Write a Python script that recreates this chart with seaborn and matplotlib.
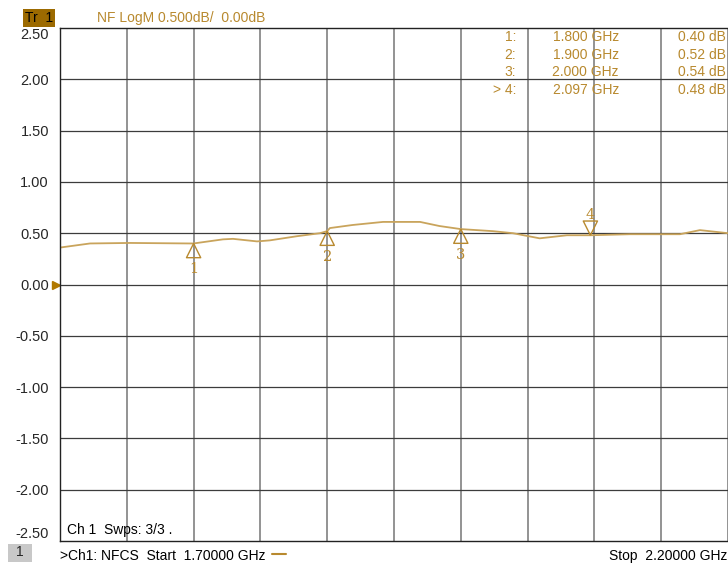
import matplotlib
matplotlib.use("Agg")
import matplotlib.pyplot as plt
import matplotlib.patches as mpatches
import seaborn as sns
import pandas as pd
import numpy as np

# ---- data ----
freq_ghz = [1.700, 1.7225, 1.7524, 1.7973, 1.800, 1.822, 1.8295, 1.8475, 1.857, 1.877,
            1.8946, 1.900, 1.902, 1.919, 1.9418, 1.9695, 1.984, 2.000, 2.024, 2.039,
            2.059, 2.0795, 2.097, 2.1266, 2.154, 2.164, 2.179, 2.200]
nf_db = [0.36, 0.40, 0.405, 0.40, 0.40, 0.44, 0.445, 0.42, 0.43, 0.47,
         0.50, 0.52, 0.55, 0.58, 0.61, 0.61, 0.57, 0.54, 0.52, 0.50,
         0.45, 0.48, 0.48, 0.49, 0.49, 0.49, 0.53, 0.50]
marker_ids = ["1", "2", "3", "4"]
marker_freq = [1.800, 1.900, 2.000, 2.097]
marker_val = [0.40, 0.52, 0.54, 0.48]
ytick_vals = [2.5, 2.0, 1.5, 1.0, 0.5, 0.0, -0.5, -1.0, -1.5, -2.0, -2.5]

TRACE = "#c9a45c"
GOLD = "#b8892e"
FONT = "Liberation Sans"

sns.set_style("white")
plt.rcParams["font.family"] = [FONT, "DejaVu Sans"]

fig = plt.figure(figsize=(7.28, 5.66), dpi=100)
ax = fig.add_axes([60 / 728, 1 - 541 / 566, 668 / 728, 513 / 566])

df = pd.DataFrame({"f": freq_ghz, "nf": nf_db})
sns.lineplot(data=df, x="f", y="nf", ax=ax, color=TRACE, linewidth=1.3)

ax.set_xlim(1.70, 2.20)
ax.set_ylim(-2.5, 2.5)
ax.set_xlabel("")
ax.set_ylabel("")

# grid
for xv in np.arange(1.75, 2.2, 0.05):
    ax.axvline(xv, color="#8a8a8a", lw=1.3, zorder=0)
for yv in ytick_vals[1:-1]:
    ax.axhline(yv, color="#3c3c3c", lw=0.9, zorder=0)

for s in ["left", "top", "bottom"]:
    ax.spines[s].set_color("#222222")
    ax.spines[s].set_linewidth(1.0)
ax.spines["right"].set_visible(False)

ax.set_xticks([])
ax.set_yticks(ytick_vals)
ax.set_yticklabels([f"{v:.2f}" for v in ytick_vals], fontsize=10.5)
ax.tick_params(axis="y", length=0, pad=8)
lbls = ax.get_yticklabels()
lbls[0].set_verticalalignment("top")
lbls[-1].set_verticalalignment("bottom")

# reference arrow at 0.00
ax.plot([-0.006], [0.0], marker=">", color="#b07800", markersize=6,
        transform=ax.get_yaxis_transform(), clip_on=False)

# markers
up_tri = [(0, 0), (-0.5, -1), (0.5, -1), (0, 0)]
down_tri = [(0, 0), (-0.5, 1), (0.5, 1), (0, 0)]
for mid, mf, mv in zip(marker_ids, marker_freq, marker_val):
    if mid == "4":
        ax.scatter([mf], [mv], marker=down_tri, s=420, facecolors="none",
                   edgecolors=GOLD, linewidths=1.0, zorder=5)
        ax.annotate(mid, (mf, mv), xytext=(0, 14.5), textcoords="offset points",
                    ha="center", va="center", color=GOLD, fontsize=10.5,
                    family="DejaVu Serif")
    else:
        ax.scatter([mf], [mv], marker=up_tri, s=420, facecolors="none",
                   edgecolors=GOLD, linewidths=1.0, zorder=5)
        ax.annotate(mid, (mf, mv), xytext=(0, -18.5), textcoords="offset points",
                    ha="center", va="center", color=GOLD, fontsize=10.5,
                    family="DejaVu Serif")

# marker table
rows_y = [37, 55, 72, 90]
prefixes = ["1:", "2:", "3:", "> 4:"]
for py, pre, mf, mv in zip(rows_y, prefixes, marker_freq, marker_val):
    yy = 1 - py / 566
    fig.text(516 / 728, yy, pre, ha="right", va="center", color=GOLD, fontsize=10)
    fig.text(619 / 728, yy, f"{mf:.3f} GHz", ha="right", va="center", color=GOLD, fontsize=10)
    fig.text(726 / 728, yy, f"{mv:.2f} dB", ha="right", va="center", color=GOLD, fontsize=10)

# header
fig.text(39 / 728, 1 - 18 / 566, "Tr  1", ha="center", va="center", color="black",
         fontsize=10, bbox=dict(boxstyle="square,pad=0.12", fc="#9c6a00", ec="none"))
fig.text(97 / 728, 1 - 18 / 566, "NF LogM 0.500dB/  0.00dB", ha="left", va="center",
         color=GOLD, fontsize=10)

# in-plot status
ax.text(0.0105, 0.022, "Ch 1  Swps: 3/3 .", transform=ax.transAxes,
        ha="left", va="center", fontsize=10, color="black")

# footer
fig.add_artist(mpatches.Rectangle((8 / 728, 1 - 562 / 566), 24 / 728, 18 / 566,
                                  transform=fig.transFigure, fc="#c8c8c8", ec="none"))
fig.text(20 / 728, 1 - 552 / 566, "1", ha="center", va="center", fontsize=10)
fig.text(60 / 728, 1 - 556 / 566, ">Ch1: NFCS  Start  1.70000 GHz", ha="left",
         va="center", fontsize=10, color="black")
fig.add_artist(plt.Line2D([272 / 728, 286 / 728], [1 - 554 / 566, 1 - 554 / 566],
                          color="#b8892e", lw=1.5))
fig.text(727 / 728, 1 - 556 / 566, "Stop  2.20000 GHz", ha="right", va="center",
         fontsize=10, color="black")

fig.savefig("out.png", dpi=100)
